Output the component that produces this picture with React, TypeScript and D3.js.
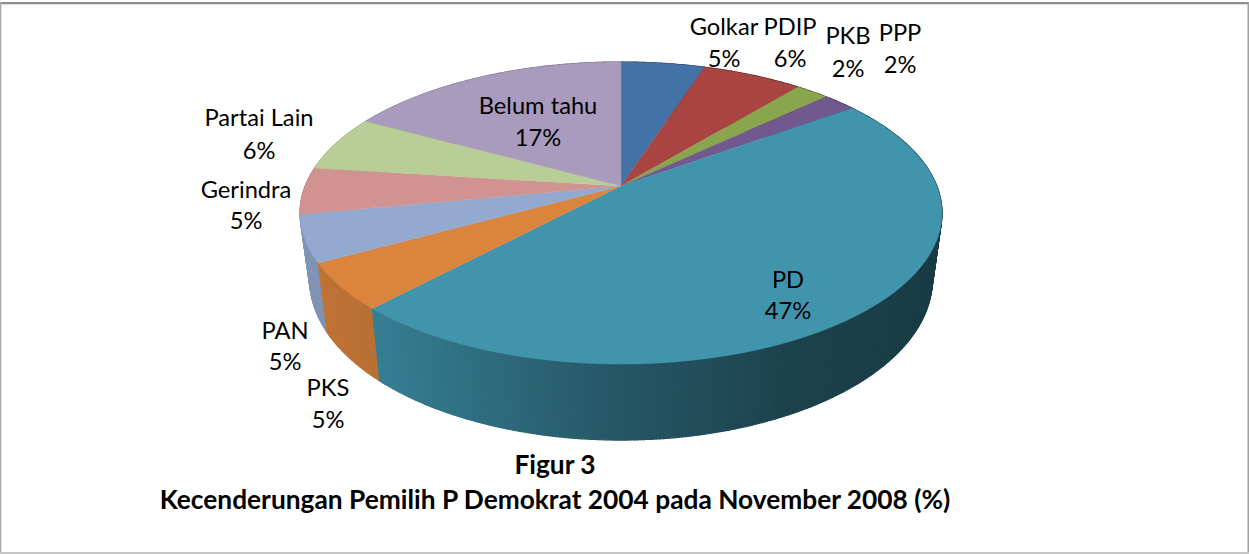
import React from "react";
import * as d3 from "d3";

const categories = ["Golkar", "PDIP", "PKB", "PPP", "PD", "PKS", "PAN", "Gerindra", "Partai Lain", "Belum tahu"];
const values = [5, 6, 2, 2, 47, 5, 5, 5, 6, 17];
const colors = ["#4372a6", "#a94442", "#89a54e", "#71588f", "#4095ad", "#db843d", "#93a9cf", "#d19392", "#b9cd96", "#a99bbd"];
const titleLines = ["Figur 3", "Kecenderungan Pemilih P Demokrat 2004 pada November 2008 (%)"];

// label anchors: [centre x, first baseline, second baseline]
const labelSpots: [number, number, number][] = [
  [724, 35, 67], [790, 35, 67], [848, 44, 77], [900, 41, 73], [788, 288, 319],
  [328, 396, 428], [285, 339, 370], [246, 198, 229], [259, 126, 159], [538, 114, 146],
];

const W = 1249, H = 554;
const FONT = "Lato, Carlito, Calibri, sans-serif";
const apex = { x: 621, y: 186 };
const persp = 0.179, RX = 315.8, RY = 146.2;

const project = (a: number) => {
  const u = Math.sin(a), v = Math.cos(a), w = 1 + persp * v;
  return [apex.x + (RX * u) / w, apex.y - (RY * v) / w] as [number, number];
};
const projectLow = (a: number) => {
  const [x, y] = project(a);
  return [apex.x + 0.97 * (x - apex.x), 440 + 1.065 * (y - 364)] as [number, number];
};

const shade = d3.scaleLinear().domain([300, 381, 621, 800, 940]).range([0.12, 0.16, 0.42, 0.56, 0.6]).clamp(true);
const line = d3.line();
const arcs = d3.pie<number>().sort(null).value((d) => d)(values);
const STEP = Math.PI / 180;
const anglesOf = (a0: number, a1: number) => d3.range(a0, a1, STEP / 2).concat([a1]);

export default function App() {
  const sideQuads: { d: string; fill: string; y: number }[] = [];
  arcs.forEach((s, i) => {
    const as = anglesOf(s.startAngle, s.endAngle);
    for (let k = 0; k < as.length - 1; k++) {
      const p0 = project(as[k]), p1 = project(as[k + 1]);
      const q0 = projectLow(as[k]), q1 = projectLow(as[k + 1]);
      const base = d3.rgb(colors[i]);
      const t = 1 - shade((p0[0] + p1[0]) / 2);
      sideQuads.push({
        d: line([p0, p1, q1, q0])! + "Z",
        fill: d3.rgb(base.r * t, base.g * t, base.b * t).formatHex(),
        y: p0[1] + p1[1],
      });
    }
  });
  sideQuads.sort((a, b) => a.y - b.y);
  return (
    <svg width={W} height={H} viewBox={`0 0 ${W} ${H}`} style={{ position: "fixed", left: 0, top: 0, display: "block", background: "#fff" }}>
      <line x1={0} x2={W} y1={3} y2={3} stroke="#8f8f8f" strokeWidth={2} />
      <line x1={0} x2={W} y1={4.5} y2={4.5} stroke="#dedede" strokeWidth={1} />
      <line x1={0.5} x2={0.5} y1={2} y2={H} stroke="#a8a8a8" strokeWidth={1.5} />
      <line x1={W - 0.75} x2={W - 0.75} y1={2} y2={H} stroke="#a0a0a0" strokeWidth={1.5} />
      <line x1={0} x2={W} y1={H - 1} y2={H - 1} stroke="#c6c6c6" strokeWidth={2} />
      <g>
        {sideQuads.map((q, i) => (
          <path key={i} d={q.d} fill={q.fill} stroke={q.fill} strokeWidth={1.2} strokeLinejoin="round" />
        ))}
      </g>
      <g>
        {arcs.map((s, i) => {
          const pts = anglesOf(s.startAngle, s.endAngle).map(project);
          return <path key={i} d={line([[apex.x, apex.y], ...pts])! + "Z"} fill={colors[i]} stroke={colors[i]} strokeWidth={0.4} />;
        })}
      </g>
      <g fontFamily={FONT} fontSize={23.7} fill="#000" textAnchor="middle">
        {categories.map((c, i) => (
          <g key={c}>
            <text x={labelSpots[i][0]} y={labelSpots[i][1]}>{c}</text>
            <text x={labelSpots[i][0]} y={labelSpots[i][2]}>{values[i]}%</text>
          </g>
        ))}
      </g>
      <g fontFamily={FONT} fontSize={26.3} fontWeight={700} fill="#000" textAnchor="middle">
        <text x={555} y={474}>{titleLines[0]}</text>
        <text x={555} y={509}>{titleLines[1]}</text>
      </g>
    </svg>
  );
}
